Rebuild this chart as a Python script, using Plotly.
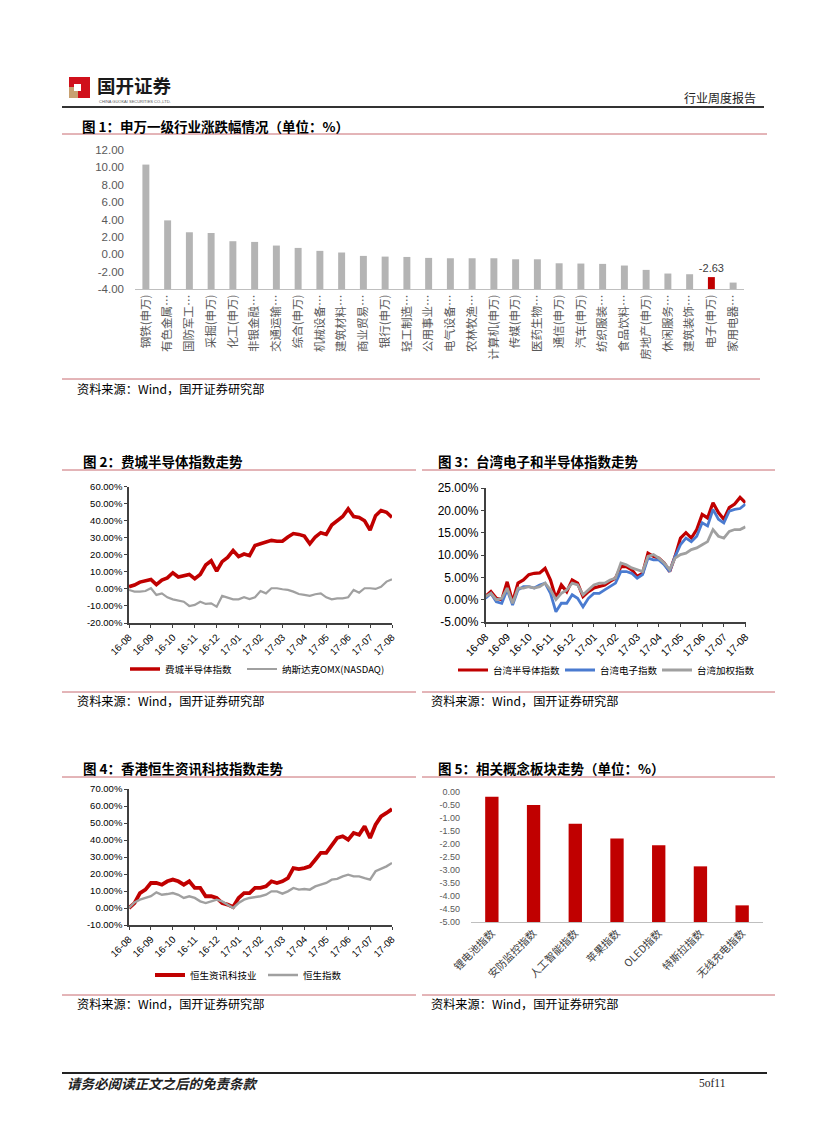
import plotly.graph_objects as go
import numpy as np

# page is 827x1122; the html body adds an 8px margin, so the figure is 16px smaller
PAGE_OFF = 8
W, H = 827 - 2 * PAGE_OFF, 1122 - 2 * PAGE_OFF
def px(x): return (x - PAGE_OFF) / W
def py(y): return 1 - (y - PAGE_OFF) / H

# ---------------- DATA ----------------
# Fig 1: SW level-1 industries weekly change (%)
industries = ["钢铁(申万)", "有色金属(申万)", "国防军工(申万)", "采掘(申万)", "化工(申万)", "非银金融(申万)",
              "交通运输(申万)", "综合(申万)", "机械设备(申万)", "建筑材料(申万)", "商业贸易(申万)", "银行(申万)",
              "轻工制造(申万)", "公用事业(申万)", "电气设备(申万)", "农林牧渔(申万)", "计算机(申万)", "传媒(申万)",
              "医药生物(申万)", "通信(申万)", "汽车(申万)", "纺织服装(申万)", "食品饮料(申万)", "房地产(申万)",
              "休闲服务(申万)", "建筑装饰(申万)", "电子(申万)", "家用电器(申万)"]
industry_chg = [10.32, 3.90, 2.53, 2.45, 1.50, 1.42, 1.00, 0.73, 0.39, 0.20, -0.19, -0.27,
                -0.31, -0.42, -0.46, -0.46, -0.46, -0.58, -0.58, -1.04, -1.07, -1.11, -1.30, -1.80,
                -2.22, -2.30, -2.63, -3.26]
highlight = "电子(申万)"

# Month tick labels shared by time-series charts
month_labels = ["16-08", "16-09", "16-10", "16-11", "16-12", "17-01", "17-02",
                "17-03", "17-04", "17-05", "17-06", "17-07", "17-08"]

# Fig 2: Philadelphia semiconductor vs NASDAQ OMX (cumulative %)
sox = [1.3, 2.3, 4.0, 5.0, 5.6, 2.5, 5.2, 6.5, 9.5, 7.0, 7.5, 8.5, 6.0, 8.5, 14.0, 16.5, 10.5,
       16.0, 18.5, 22.5, 19.0, 20.5, 19.5, 25.5, 26.5, 27.5, 28.5, 28.0, 28.0, 30.5, 32.5, 32.0,
       31.0, 26.5, 30.5, 33.0, 32.0, 37.5, 40.0, 42.5, 47.0, 42.5, 42.0, 40.0, 34.5, 43.0, 46.0,
       45.0, 42.0]
nasdaq = [-0.6, -1.6, -1.6, -1.2, 0.4, -3.5, -2.6, -4.9, -6.1, -6.9, -7.5, -10.0, -9.4, -7.5,
          -8.8, -8.5, -10.4, -4.1, -4.9, -6.1, -6.1, -4.9, -5.9, -4.9, -1.2, -2.6, 0.4, 0.4, -0.2,
          -0.6, -1.6, -3.0, -3.5, -4.1, -3.1, -2.6, -4.9, -6.1, -5.5, -5.5, -4.9, -0.6, -2.2, 0.4,
          0.4, 0.0, 1.3, 4.3, 5.6]

# Fig 3: Taiwan semiconductor / electronics / weighted index (cumulative %)
tw_semi = [0.7, 1.8, 0.3, 0.0, 4.0, -0.5, 3.7, 4.4, 5.6, 5.9, 6.0, 7.0, 4.4, 0.3, 3.3, 1.8, 4.4,
           3.7, 0.7, 1.8, 2.6, 2.9, 3.3, 4.1, 4.8, 7.4, 7.4, 6.7, 5.2, 5.9, 10.4, 9.7, 9.3, 8.2,
           6.3, 9.7, 13.8, 15.0, 13.8, 15.7, 19.1, 18.3, 21.7, 19.5, 18.0, 20.6, 21.4, 22.9, 21.7]
tw_elec = [0.3, 1.4, -0.5, -0.8, 2.2, -1.2, 2.2, 2.9, 2.9, 2.6, 3.3, 3.7, 1.4, -2.7, -0.8, -0.8,
           1.1, 0.3, -1.6, 0.3, 1.4, 1.4, 2.2, 2.9, 3.7, 6.3, 6.3, 5.9, 4.8, 5.6, 9.3, 8.9, 8.9,
           7.8, 6.3, 9.7, 12.3, 13.8, 13.0, 14.2, 17.2, 16.5, 20.2, 18.0, 17.2, 19.8, 20.2, 20.4, 21.4]
tw_taiex = [0.7, 1.4, 0.0, 0.3, 2.6, -0.8, 2.6, 2.6, 2.9, 2.6, 2.9, 3.7, 2.2, 0.0, 1.4, 2.2, 3.7,
            3.3, 1.1, 2.2, 3.3, 3.7, 3.7, 4.4, 4.8, 8.2, 7.8, 7.1, 6.7, 6.3, 9.7, 10.1, 9.3, 8.2,
            6.7, 9.3, 10.1, 10.4, 11.2, 11.6, 12.3, 13.0, 15.7, 14.2, 13.8, 15.3, 15.7, 15.7, 16.3]

# Fig 4: Hang Seng IT vs Hang Seng Index (cumulative %)
hs_it = [0.0, 2.9, 8.8, 10.8, 14.7, 14.7, 13.7, 15.7, 16.7, 15.7, 13.7, 15.7, 11.8, 11.8, 6.9,
         6.9, 5.9, 2.9, 2.0, 0.6, 5.9, 8.8, 8.8, 11.8, 11.8, 12.7, 15.7, 14.7, 15.7, 17.6, 23.5,
         22.9, 23.5, 24.5, 28.4, 32.4, 32.4, 37.3, 41.2, 42.2, 40.2, 44.1, 43.1, 48.0, 41.2, 49.0,
         53.9, 55.9, 58.2]
hsi = [0.0, 3.3, 4.9, 5.9, 6.9, 9.2, 7.8, 8.2, 8.8, 7.8, 5.9, 6.9, 5.9, 3.9, 2.9, 3.9, 4.9, 3.9,
       2.0, 0.0, 2.9, 4.9, 5.9, 6.3, 6.9, 7.8, 9.8, 9.8, 8.4, 9.8, 11.8, 10.8, 11.2, 10.8, 12.7,
       13.7, 14.7, 16.7, 17.1, 18.6, 19.6, 18.6, 18.6, 17.6, 16.7, 21.6, 22.9, 24.5, 26.5]

# Fig 5: related concept sectors (%)
concepts = ["锂电池指数", "安防监控指数", "人工智能指数", "苹果指数", "OLED指数", "特斯拉指数", "无线充电指数"]
concept_chg = [-0.18, -0.50, -1.22, -1.79, -2.05, -2.86, -4.36]

# ---------------- STYLE ----------------
RED = "#C00000"
GREY_BAR = "#B4B4B4"
GREY_LINE = "#A0A0A0"
BLUE = "#4A7BD0"
RULE = "#C86B70"
LAT = "Liberation Sans, Arial, Noto Sans CJK SC"
CJK = "Noto Sans CJK SC, Liberation Sans"

fig = go.Figure()

n = len(sox)
t = np.linspace(0, len(month_labels) - 1, n)

# ---- Fig 1 bars ----
base1 = -4
fig.add_trace(go.Bar(
    x=industries, y=[v - base1 for v in industry_chg], base=base1,
    marker=dict(color=[RED if c == highlight else GREY_BAR for c in industries], line_width=0),
    width=0.32,
    text=[f"{v:.2f}" if c == highlight else "" for c, v in zip(industries, industry_chg)],
    textposition="outside", constraintext="none",
    textfont=dict(family=LAT, size=11, color="#404040"),
    cliponaxis=False, showlegend=False, xaxis="x", yaxis="y",
    customdata=industry_chg, hovertemplate="%{x}: %{customdata:.2f}<extra></extra>"))

def trunc(s):
    return s if len(s) <= 7 else s[:4] + "…"

# ---- Fig 2 lines ----
fig.add_trace(go.Scatter(x=t, y=sox, mode="lines", name="费城半导体指数",
                         line=dict(color=RED, width=3.6), xaxis="x2", yaxis="y2", legend="legend"))
fig.add_trace(go.Scatter(x=t, y=nasdaq, mode="lines", name="纳斯达克OMX(NASDAQ)",
                         line=dict(color=GREY_LINE, width=2.2), xaxis="x2", yaxis="y2", legend="legend2"))

# ---- Fig 3 lines ----
fig.add_trace(go.Scatter(x=t, y=tw_semi, mode="lines", name="台湾半导体指数",
                         line=dict(color=RED, width=3.2), xaxis="x3", yaxis="y3", legend="legend3"))
fig.add_trace(go.Scatter(x=t, y=tw_elec, mode="lines", name="台湾电子指数",
                         line=dict(color=BLUE, width=2.8), xaxis="x3", yaxis="y3", legend="legend4"))
fig.add_trace(go.Scatter(x=t, y=tw_taiex, mode="lines", name="台湾加权指数",
                         line=dict(color=GREY_LINE, width=2.8), xaxis="x3", yaxis="y3", legend="legend5"))

# ---- Fig 4 lines ----
fig.add_trace(go.Scatter(x=t, y=hs_it, mode="lines", name="恒生资讯科技业",
                         line=dict(color=RED, width=3.8), xaxis="x4", yaxis="y4", legend="legend6"))
fig.add_trace(go.Scatter(x=t, y=hsi, mode="lines", name="恒生指数",
                         line=dict(color=GREY_LINE, width=2.4), xaxis="x4", yaxis="y4", legend="legend7"))

# ---- Fig 5 bars ----
base5 = -5
fig.add_trace(go.Bar(
    x=concepts, y=[v - base5 for v in concept_chg], base=base5, width=0.32,
    marker=dict(color=RED, line_width=0), showlegend=False, xaxis="x5", yaxis="y5",
    customdata=concept_chg, hovertemplate="%{x}: %{customdata:.2f}<extra></extra>"))

# ---------------- AXES ----------------
def pct_ticks(lo, hi, step):
    vals = list(np.arange(lo, hi + step / 2, step))
    return vals, [f"{v:.2f}%" for v in vals]

def ts_axes(xdom, ydom, yr, ystep, xfont, yfont):
    yv, yt = pct_ticks(yr[0], yr[1], ystep)
    xa = dict(domain=[px(xdom[0]), px(xdom[1])], range=[0, len(month_labels) - 1],
              tickvals=list(range(len(month_labels))), ticktext=month_labels, tickangle=-45,
              showline=True, linecolor="#404040", linewidth=1.5, ticks="outside", ticklen=3,
              tickcolor="#404040", showgrid=False, zeroline=False, automargin=False,
              tickfont=dict(family=LAT, size=xfont, color="#000000"), fixedrange=True)
    ya = dict(domain=[py(ydom[1]), py(ydom[0])], range=list(yr), tickvals=yv, ticktext=yt,
              showline=True, linecolor="#404040", linewidth=1.5, ticks="outside", ticklen=3,
              tickcolor="#404040", showgrid=False, zeroline=False, automargin=False,
              tickfont=dict(family=LAT, size=yfont, color="#000000"), fixedrange=True)
    return xa, ya

x2, y2 = ts_axes((129, 392), (486.7, 623), (-20, 60), 10, 9.8, 9.5)
x3, y3 = ts_axes((485.5, 745.5), (488, 622), (-5, 25), 5, 10.5, 12)
x4, y4 = ts_axes((129, 392), (789, 925), (-10, 70), 10, 9.8, 9.5)
x2["anchor"], y2["anchor"] = "y2", "x2"
x3["anchor"], y3["anchor"] = "y3", "x3"
x4["anchor"], y4["anchor"] = "y4", "x4"

y1vals = list(range(-4, 13, 2))
y5vals = list(np.arange(-5, 0.01, 0.5))

def leg(x, y):
    return dict(orientation="h", x=px(x), xanchor="left", y=py(y), yanchor="middle",
                font=dict(family=CJK, size=9.5, color="#000000"), bgcolor="rgba(0,0,0,0)",
                itemwidth=30, borderwidth=0)

layout = dict(
    template="none",
    width=W, height=H, margin=dict(l=0, r=0, t=0, b=0, pad=0), autosize=False,
    paper_bgcolor="white", plot_bgcolor="rgba(0,0,0,0)",
    font=dict(family=CJK, color="#000000"),
    bargap=0.5, hovermode="closest",
    xaxis=dict(domain=[px(135), px(744)], anchor="y", type="category",
               tickvals=industries, ticktext=[trunc(c) for c in industries], tickangle=-90,
               showline=True, linecolor="#BFBFBF", linewidth=1, ticks="", showgrid=False,
               zeroline=False, automargin=False,
               tickfont=dict(family=CJK, size=11.5, color="#595959"), fixedrange=True),
    yaxis=dict(domain=[py(289), py(150)], anchor="x", range=[-4, 12], tickvals=y1vals,
               ticktext=[f"{v:.2f}" for v in y1vals], showline=False, showgrid=False,
               zeroline=False, ticks="", ticklabelstandoff=10, automargin=False,
               tickfont=dict(family=LAT, size=11.5, color="#595959"), fixedrange=True),
    xaxis2=x2, yaxis2=y2, xaxis3=x3, yaxis3=y3, xaxis4=x4, yaxis4=y4,
    xaxis5=dict(domain=[px(471), px(763)], anchor="y5", type="category", tickangle=-45,
                showline=True, linecolor="#BFBFBF", linewidth=1, ticks="", showgrid=False,
                zeroline=False, automargin=False,
                tickfont=dict(family=CJK, size=10.5, color="#404040"), fixedrange=True),
    yaxis5=dict(domain=[py(922), py(792)], anchor="x5", range=[-5, 0], tickvals=y5vals,
                ticktext=[f"{v:.2f}" for v in y5vals], showline=False, showgrid=False,
                zeroline=False, ticks="", ticklabelstandoff=10, automargin=False,
                tickfont=dict(family=LAT, size=9, color="#595959"), fixedrange=True),
    legend=leg(125, 669), legend2=leg(242, 669),
    legend3=leg(453, 670), legend4=leg(560, 670), legend5=leg(657, 670),
    legend6=leg(150, 975), legend7=leg(263, 975),
)
fig.update_layout(**layout)

# ---------------- PAGE DECORATION ----------------
shapes = []
def hline(x0, x1, y, color, width):
    shapes.append(dict(type="line", xref="paper", yref="paper", x0=px(x0), x1=px(x1),
                       y0=py(y), y1=py(y), line=dict(color=color, width=width)))
def rect(x0, y0, x1, y1, color):
    shapes.append(dict(type="rect", xref="paper", yref="paper", x0=px(x0), x1=px(x1),
                       y0=py(y1), y1=py(y0), fillcolor=color, line=dict(width=0)))

# logo
rect(69, 77, 90, 98, "#D0101B")
rect(69, 87, 78, 98, "#C8A070")
rect(74, 84, 81, 91, "#FFFFFF")

hline(62, 764, 107, "#333333", 2)
hline(62, 767, 134, RULE, 1)
hline(62, 760, 379, RULE, 1)
hline(62, 416, 470, RULE, 1)
hline(422, 775, 470, RULE, 1)
hline(62, 416, 692, RULE, 1)
hline(422, 775, 692, RULE, 1)
hline(62, 416, 777, RULE, 1)
hline(422, 775, 777, RULE, 1)
hline(62, 416, 995, RULE, 1)
hline(422, 775, 995, RULE, 1)
hline(62, 767, 1073, "#222222", 2)

ann = []
def text(x, y, s, size, family=CJK, color="#000000", anchor="left", bold=False, italic=False):
    if bold:
        s = f"<b>{s}</b>"
    if italic:
        s = f"<i>{s}</i>"
    ann.append(dict(x=px(x), y=py(y), xref="paper", yref="paper", text=s, showarrow=False,
                    xanchor=anchor, yanchor="middle", font=dict(family=family, size=size, color=color)))

text(95, 85, "国开证券", 18.5, bold=True, color="#1a1a1a")
text(97, 101, "CHINA GUOKAI SECURITIES CO.,LTD.", 4, family=LAT, color="#555555")
text(758, 98, "行业周度报告", 12, anchor="right", color="#222222")

src = "资料来源：Wind，国开证券研究部"
TS = 13.5
SS = 12.2
text(80, 126, "图 1：申万一级行业涨跌幅情况（单位：%）", TS, bold=True)
text(75, 389, src, SS)
text(81, 461, "图 2：费城半导体指数走势", TS, bold=True)
text(436, 461, "图 3：台湾电子和半导体指数走势", TS, bold=True)
text(75, 701, src, SS)
text(429, 701, src, SS)
text(81, 768, "图 4：香港恒生资讯科技指数走势", TS, bold=True)
text(436, 768, "图 5：相关概念板块走势（单位：%）", TS, bold=True)
text(75, 1004, src, SS)
text(429, 1004, src, SS)
text(65, 1083, "请务必阅读正文之后的免责条款", 13.5, bold=True, italic=True, color="#222222")
text(728, 1083, "5of11", 11.5, family="Liberation Serif, DejaVu Serif", anchor="right", color="#222222")

fig.update_layout(shapes=shapes, annotations=ann)
fig.write_html("out.html")
